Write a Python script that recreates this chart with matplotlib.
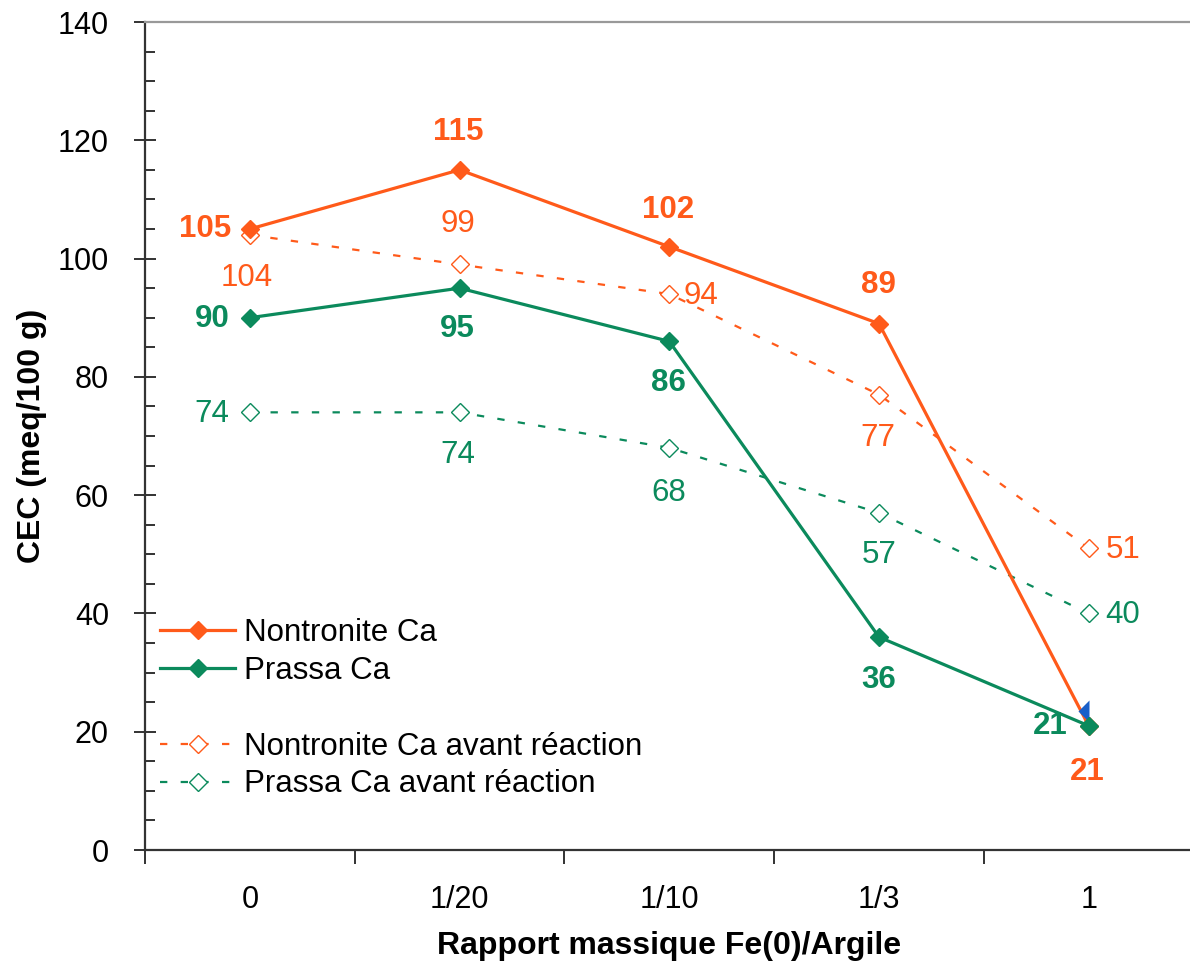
import matplotlib
matplotlib.use("Agg")
import matplotlib.pyplot as plt
from matplotlib.lines import Line2D
from matplotlib.ticker import MultipleLocator, FixedLocator

plt.rcParams['font.family'] = ['Liberation Sans', 'DejaVu Sans']

categories = ["0", "1/20", "1/10", "1/3", "1"]
nontronite = [105, 115, 102, 89, 21]
prassa = [90, 95, 86, 36, 21]
nontronite_avant = [104, 99, 94, 77, 51]
prassa_avant = [74, 74, 68, 57, 40]
# stray, mostly hidden blue marker visible at the last category
stray_x = [4]
stray_y = [23.5]

ORANGE = "#FF5A1A"
GREEN = "#0B8A5C"
BLUE = "#1A5FC8"

fig = plt.figure(figsize=(11.9, 9.68), dpi=100)
ax = fig.add_axes([145/1190, 1 - 850/968, 1 - 145/1190 + 0.003, (850 - 22)/968])

x = list(range(len(categories)))

DASH = (0, (3.3, 6.0))
ax.plot(stray_x, stray_y, ls='none', marker='D', ms=11, fillstyle='left',
        mfc=BLUE, mfcalt='none', mec='none', zorder=4.5)
ax.plot(x, nontronite_avant, color=ORANGE, lw=1.6, ls=DASH,
        marker='D', ms=9, mfc='white', mec=ORANGE, mew=1.0, zorder=3)
ax.plot(x, prassa_avant, color=GREEN, lw=1.6, ls=DASH,
        marker='D', ms=9, mfc='white', mec=GREEN, mew=1.0, zorder=3)
ax.plot(x, nontronite, color=ORANGE, lw=2.3, marker='D', ms=9,
        mfc=ORANGE, mec=ORANGE, zorder=4)
ax.plot(x, prassa, color=GREEN, lw=2.3, marker='D', ms=9,
        mfc=GREEN, mec=GREEN, zorder=5)

px = 0.72  # points per pixel at 100 dpi

def lab(xi, yi, dx, dy, color, bold):
    # dx, dy in pixels; dy positive = downward on screen
    ax.annotate(f"{yi}", (xi, yi), xytext=(dx * px, -dy * px), textcoords='offset points',
                ha='center', va='center', color=color, fontsize=22.5,
                fontweight='bold' if bold else 'normal', zorder=6)

# Nontronite Ca (bold)
off_n = [(-45, 0), (-1, -38), (-1, -37), (-1, -39), (-1, 46)]
for i, v in enumerate(nontronite):
    lab(i, v, off_n[i][0], off_n[i][1], ORANGE, True)
# Prassa Ca (bold)
off_p = [(-38, 1), (-2, 41), (-1, 42), (0, 43), (-38, 0)]
for i, v in enumerate(prassa):
    lab(i, v, off_p[i][0], off_p[i][1], GREEN, True)
# Nontronite avant (normal)
off_na = [(-3, 43), (-2, -40), (32, 2), (-1, 43), (34, 2)]
for i, v in enumerate(nontronite_avant):
    lab(i, v, off_na[i][0], off_na[i][1], ORANGE, False)
# Prassa avant (normal)
off_pa = [(-38, 2), (-2, 43), (-1, 45), (0, 42), (34, 2)]
for i, v in enumerate(prassa_avant):
    lab(i, v, off_pa[i][0], off_pa[i][1], GREEN, False)

ax.set_xlim(-0.5, 4.5)
ax.set_ylim(0, 140)

ax.yaxis.set_major_locator(MultipleLocator(20))
ax.yaxis.set_minor_locator(MultipleLocator(5))
ax.tick_params(axis='y', which='major', direction='inout', length=16, width=1.3,
               colors='#222222', labelsize=22, pad=18, labelcolor='black')
ax.tick_params(axis='y', which='minor', direction='in', length=7, width=1.3, colors='#222222')

ax.xaxis.set_major_locator(FixedLocator([-0.5, 0.5, 1.5, 2.5, 3.5]))
ax.xaxis.set_minor_locator(FixedLocator(x))
ax.set_xticklabels([], minor=False)
ax.set_xticklabels(categories, minor=True)
ax.tick_params(axis='x', which='major', direction='out', length=10, width=1.3, colors='#222222')
ax.tick_params(axis='x', which='minor', length=0, labelsize=22, pad=25, labelcolor='black')

for s in ['left', 'bottom']:
    ax.spines[s].set_color('#333333')
    ax.spines[s].set_linewidth(1.6)
ax.spines['top'].set_color('#999999')
ax.spines['top'].set_linewidth(1.6)
ax.spines['right'].set_visible(False)

ax.set_xlabel("Rapport massique Fe(0)/Argile", fontsize=23, fontweight='bold', labelpad=12)
ax.set_ylabel("CEC (meq/100 g)", fontsize=23, fontweight='bold', labelpad=8)

handles = [
    Line2D([], [], color=ORANGE, lw=2.3, marker='D', ms=9, mfc=ORANGE, mec=ORANGE),
    Line2D([], [], color=GREEN, lw=2.3, marker='D', ms=9, mfc=GREEN, mec=GREEN),
    Line2D([], [], color='none'),
    Line2D([], [], color=ORANGE, lw=1.6, ls=DASH, marker='D', ms=9,
           mfc='white', mec=ORANGE, mew=1.0),
    Line2D([], [], color=GREEN, lw=1.6, ls=DASH, marker='D', ms=9,
           mfc='white', mec=GREEN, mew=1.0),
]
labels = ["Nontronite Ca", "Prassa Ca", "", "Nontronite Ca avant réaction", "Prassa Ca avant réaction"]
leg = ax.legend(handles, labels, loc='upper left', bbox_to_anchor=(0.0025, 0.295),
                frameon=False, fontsize=22.5, handlelength=2.4, labelspacing=0.25,
                handletextpad=0.3, borderaxespad=0.0)

fig.savefig("out.png", dpi=100)
